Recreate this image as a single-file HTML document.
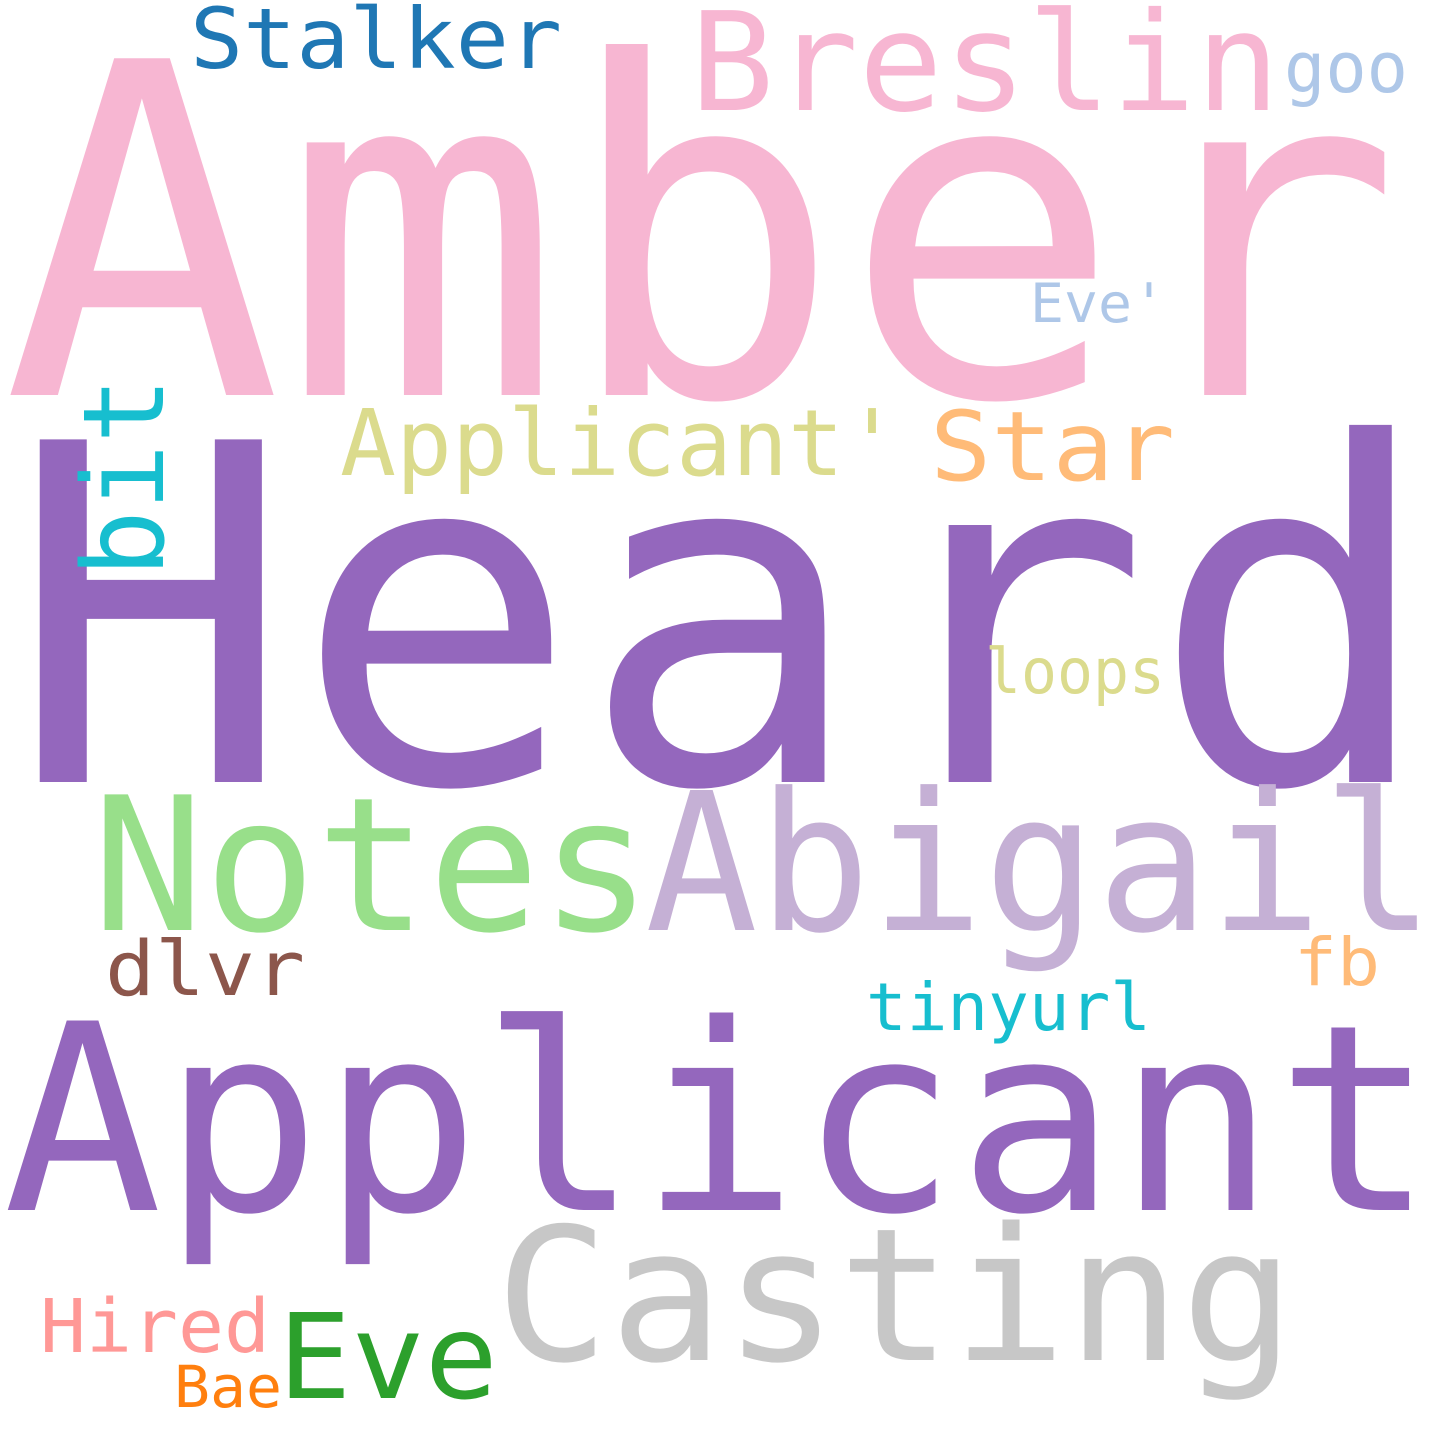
<!DOCTYPE html>
<html>
<head>
<meta charset="utf-8">
<style>
  html,body{margin:0;padding:0;background:#fff;}
  svg{display:block;}
  text{font-family:"DejaVu Sans Mono","Liberation Mono",monospace;}
</style>
</head>
<body>
<svg width="1440" height="1440" viewBox="0 0 1440 1440" xmlns="http://www.w3.org/2000/svg">
  <rect width="1440" height="1440" fill="#ffffff"/>
  <text x="2" y="395" font-size="462" fill="#f7b6d2" textLength="1400" lengthAdjust="spacingAndGlyphs">Amber</text>
  <text x="690" y="110" font-size="137" fill="#f7b6d2" textLength="590" lengthAdjust="spacingAndGlyphs">Breslin</text>
  <text x="190" y="68" font-size="84" fill="#1f77b4" textLength="372" lengthAdjust="spacingAndGlyphs">Stalker</text>
  <text x="1284" y="92" font-size="70" fill="#aec7e8" textLength="124" lengthAdjust="spacingAndGlyphs">goo</text>
  <text x="1030" y="322" font-size="54" fill="#aec7e8" textLength="136" lengthAdjust="spacingAndGlyphs">Eve'</text>
  <text x="8" y="782" font-size="470" fill="#9467bd" textLength="1428" lengthAdjust="spacingAndGlyphs">Heard</text>
  <text x="340" y="475" font-size="92" fill="#dbdb8d" textLength="560" lengthAdjust="spacingAndGlyphs">Applicant'</text>
  <text x="930" y="480" font-size="96" fill="#ffbb78" textLength="245" lengthAdjust="spacingAndGlyphs">Star</text>
  <text transform="translate(163,577) rotate(-90)" font-size="112" fill="#17becf" textLength="200" lengthAdjust="spacingAndGlyphs">bit</text>
  <text x="985" y="693" font-size="62" fill="#dbdb8d" textLength="180" lengthAdjust="spacingAndGlyphs">loops</text>
  <text x="92" y="930" font-size="186" fill="#98df8a" textLength="560" lengthAdjust="spacingAndGlyphs">Notes</text>
  <text x="645" y="930" font-size="192" fill="#c5b0d5" textLength="790" lengthAdjust="spacingAndGlyphs">Abigail</text>
  <text x="105" y="995" font-size="76" fill="#8c564b" textLength="200" lengthAdjust="spacingAndGlyphs">dlvr</text>
  <text x="1294" y="985" font-size="66" fill="#ffbb78" textLength="86" lengthAdjust="spacingAndGlyphs">fb</text>
  <text x="866" y="1030" font-size="66" fill="#17becf" textLength="285" lengthAdjust="spacingAndGlyphs">tinyurl</text>
  <text x="3" y="1210" font-size="260" fill="#9467bd" textLength="1432" lengthAdjust="spacingAndGlyphs">Applicant</text>
  <text x="495" y="1360" font-size="185" fill="#c7c7c7" textLength="800" lengthAdjust="spacingAndGlyphs">Casting</text>
  <text x="40" y="1352" font-size="74" fill="#ff9896" textLength="230" lengthAdjust="spacingAndGlyphs">Hired</text>
  <text x="278" y="1398" font-size="118" fill="#2ca02c" textLength="220" lengthAdjust="spacingAndGlyphs">Eve</text>
  <text x="174" y="1407" font-size="58" fill="#ff7f0e" textLength="108" lengthAdjust="spacingAndGlyphs">Bae</text>
</svg>
</body>
</html>
